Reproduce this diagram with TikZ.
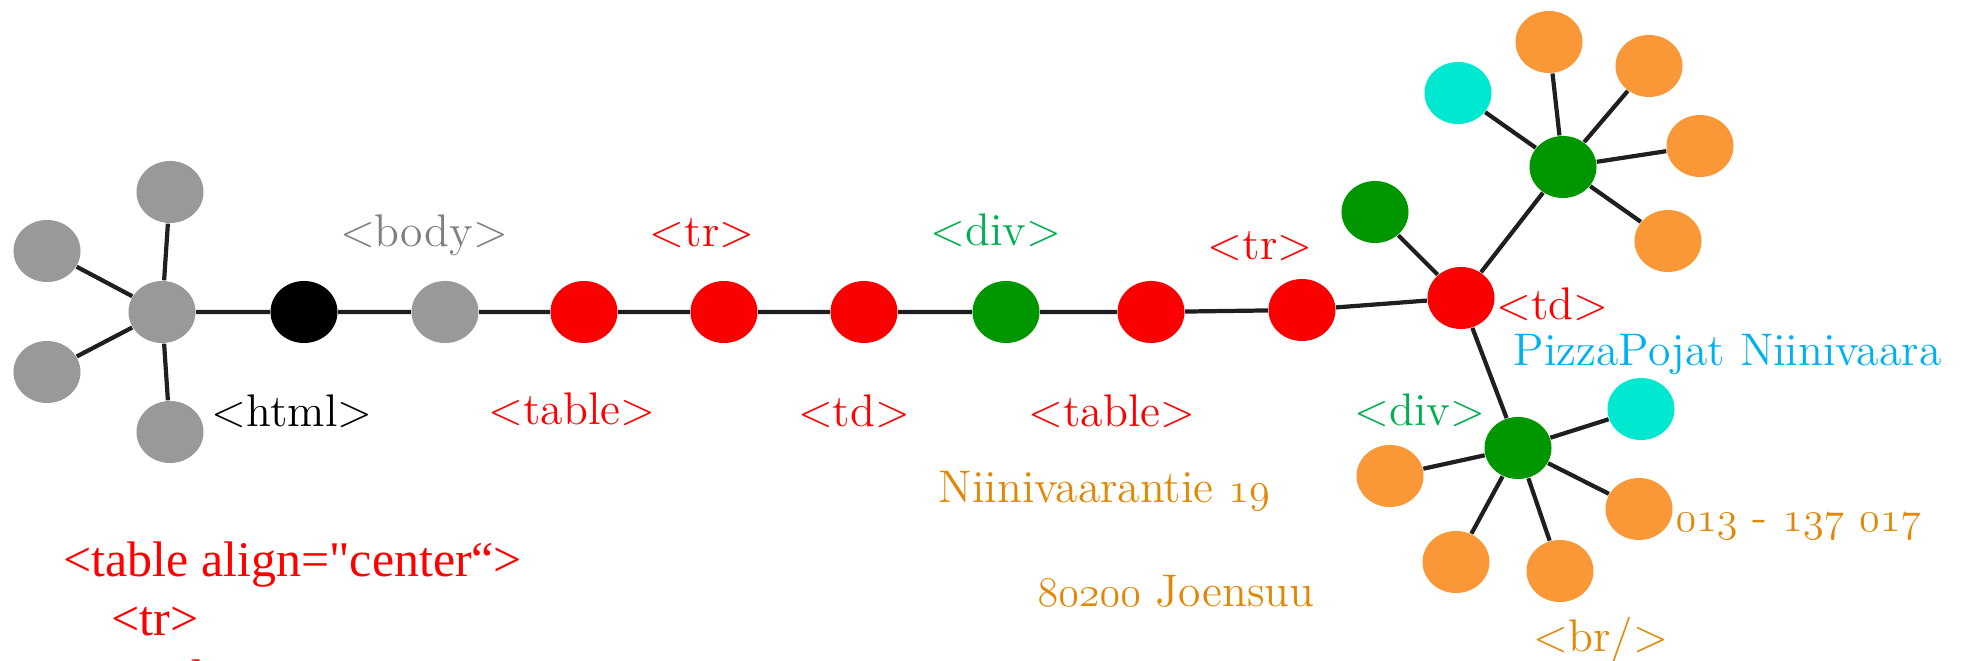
\documentclass[tikz,border=0pt]{standalone}
\usepackage{fontspec}
\newfontfamily\codefont{Liberation Serif}
\usepackage{xcolor}
\usetikzlibrary{shapes.geometric}

\definecolor{tagred}{RGB}{255,0,0}
\definecolor{taggreen}{RGB}{0,176,80}
\definecolor{taggray}{RGB}{128,128,128}
\definecolor{tagblue}{RGB}{0,176,240}
\definecolor{tagorange}{RGB}{226,136,8}
\definecolor{dotgray}{RGB}{153,153,153}
\definecolor{dotred}{RGB}{250,0,0}
\definecolor{dotgreen}{RGB}{0,150,0}
\definecolor{dotcyan}{RGB}{0,232,208}
\definecolor{dotorange}{RGB}{250,152,56}

% old style figures from the math letters font
\newcommand{\oldfig}[1]{$\mathnormal{#1}$}

\begin{document}
\begin{tikzpicture}[x=0.01cm,y=-0.01cm,
    blob/.style={ellipse,fill=#1,minimum width=6.7mm,minimum height=6.2mm,inner sep=0pt},
    lbl/.style={text=#1,inner sep=0pt,font=\fontsize{13}{15}\selectfont},
    codeline/.style={text=tagred,inner sep=0pt,anchor=base west,font=\codefont\fontsize{14.2}{17}\selectfont},
    link/.style={line width=1.2pt,black!88}]
      \useasboundingbox (0,0) rectangle (1962,661);
      \clip (0,0) rectangle (1962,661);
      % html root with its gray children
      \node[blob=dotgray] (hub) at (162,312) {};
      \node[blob=dotgray] (gtop) at (170,192) {};
      \node[blob=dotgray] (gul) at (47,251) {};
      \node[blob=dotgray] (gll) at (47,372) {};
      \node[blob=dotgray] (gbot) at (170,432) {};
      \draw[link] (hub) -- (gtop) (hub) -- (gul) (hub) -- (gll) (hub) -- (gbot);
      % the chain down to the cell
      \node[blob=black] (html) at (304,312) {};
      \node[blob=dotgray] (body) at (445,312) {};
      \node[blob=dotred] (table) at (584,312) {};
      \node[blob=dotred] (tr) at (724,312) {};
      \node[blob=dotred] (td) at (864,312) {};
      \node[blob=dotgreen] (div) at (1006,312) {};
      \node[blob=dotred] (tableb) at (1151,312) {};
      \node[blob=dotred] (trb) at (1302,310) {};
      \node[blob=dotred] (tdc) at (1461,298) {};
      \draw[link] (hub) -- (html) -- (body) -- (table) -- (tr) -- (td) -- (div)
        -- (tableb) -- (trb) -- (tdc);
      % upper div
      \node[blob=dotgreen] (divul) at (1375,212) {};
      \node[blob=dotgreen] (divup) at (1563,167) {};
      \node[blob=dotcyan] (cyanup) at (1458,93) {};
      \node[blob=dotorange] (ora) at (1549,42) {};
      \node[blob=dotorange] (orb) at (1649,66) {};
      \node[blob=dotorange] (orc) at (1700,146) {};
      \node[blob=dotorange] (ord) at (1668,241) {};
      \draw[link] (tdc) -- (divul) (tdc) -- (divup);
      \draw[link] (divup) -- (cyanup) (divup) -- (ora) (divup) -- (orb)
        (divup) -- (orc) (divup) -- (ord);
      % lower div
      \node[blob=dotgreen] (divlow) at (1518,448) {};
      \node[blob=dotcyan] (cyanlow) at (1641,409) {};
      \node[blob=dotorange] (ore) at (1390,476) {};
      \node[blob=dotorange] (orf) at (1639,509) {};
      \node[blob=dotorange] (org) at (1456,562) {};
      \node[blob=dotorange] (orh) at (1560,571) {};
      \draw[link] (tdc) -- (divlow);
      \draw[link] (divlow) -- (cyanlow) (divlow) -- (ore) (divlow) -- (orf)
        (divlow) -- (org) (divlow) -- (orh);
      % tag names
      \node[lbl=taggray,anchor=base] (lbody) at (424,247) {<body>};
      \node[lbl=black,anchor=base] (lhtml) at (292,427) {<html>};
      \node[lbl=tagred,anchor=base] (ltable) at (572,425) {<table>};
      \node[lbl=tagred,anchor=base] (ltr) at (702,247) {<tr>};
      \node[lbl=tagred,anchor=base] (ltd) at (854,427) {<td>};
      \node[lbl=taggreen,anchor=base] (ldiv) at (996,246) {<div>};
      \node[lbl=tagred,anchor=base] (ltableb) at (1112,427) {<table>};
      \node[lbl=tagred,anchor=base] (ltrb) at (1260,260) {<tr>};
      \node[lbl=tagred,anchor=base west] (ltdc) at (1496,320) {<td>};
      \node[lbl=taggreen,anchor=base] (ldivlow) at (1420,426) {<div>};
      \node[lbl=tagorange,anchor=base] (lbr) at (1601,652) {<br/>};
      % contents
      \node[lbl=tagblue,anchor=base west] (lname) at (1513,366) {PizzaPojat Niinivaara};
      \node[lbl=tagorange,anchor=base west] (lstreet) at (938,503) {Niinivaarantie \oldfig{19}};
      \node[lbl=tagorange,anchor=base west] (lcity) at (1037,607) {\oldfig{80200} Joensuu};
      \node[lbl=tagorange,anchor=base west] (lphone) at (1675,532) {\oldfig{013} - \oldfig{137} \oldfig{017}};
      % source snippet
      \node[codeline] (src1) at (63,577) {<table align="center“>};
      \node[codeline] (src2) at (111,636) {<tr>};
      \node[codeline] (src3) at (136,695) {<td>};
    \end{tikzpicture}
\end{document}
